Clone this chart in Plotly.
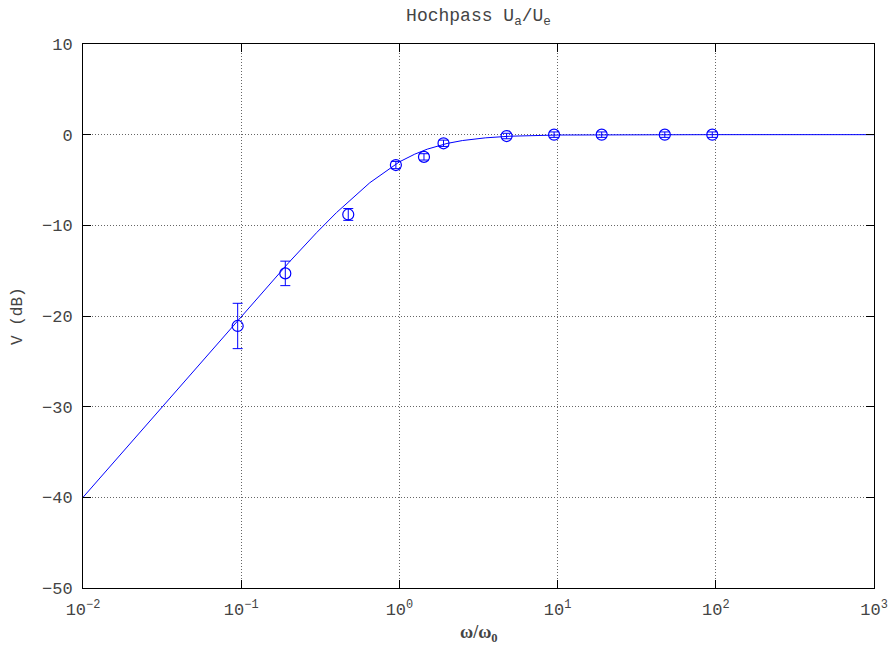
import plotly.graph_objects as go

# Measured data (omega/omega0, gain in dB, error in dB)
meas_w = [0.095, 0.19, 0.475, 0.95, 1.43, 1.9, 4.76, 9.5, 19.0, 47.6, 95.0]
meas_db = [-21.1, -15.3, -8.8, -3.35, -2.45, -0.95, -0.15, 0.0, 0.0, 0.0, 0.0]
meas_err = [2.5, 1.35, 0.65, 0.4, 0.35, 0.35, 0.3, 0.3, 0.3, 0.3, 0.3]

# Theory curve
line_w = [0.01, 0.02, 0.05, 0.1, 0.2, 0.3, 0.4, 0.65, 1.0, 1.25, 1.5, 2.0, 2.5, 3.5, 5.0, 10.0, 20.0, 100.0, 1000.0]
line_db = [-40.0, -34.0, -26.0, -20.0, -14.1, -10.8, -8.6, -5.3, -3.0, -2.15, -1.6, -0.97, -0.65, -0.35, -0.17, -0.04, -0.01, 0.0, 0.0]

x_tickvals = [0.01, 0.1, 1, 10, 100, 1000]
x_ticktext = ["10<sup>\u22122</sup>", "10<sup>\u22121</sup>", "10<sup>0</sup>", "10<sup>1</sup>", "10<sup>2</sup>", "10<sup>3</sup>"]
y_tickvals = [-50, -40, -30, -20, -10, 0, 10]

BLUE = "#0000ff"
MONO = "Courier New, Liberation Mono, monospace"
TXT = "#444444"

fig = go.Figure()
fig.add_trace(go.Scatter(x=line_w, y=line_db, mode="lines",
                         line=dict(color=BLUE, width=1), showlegend=False))
fig.add_trace(go.Scatter(x=meas_w, y=meas_db, mode="markers",
                         marker=dict(symbol="circle-open", size=11, color=BLUE, line=dict(width=1.2, color=BLUE)),
                         error_y=dict(type="data", array=meas_err, visible=True, color=BLUE, thickness=1, width=5),
                         showlegend=False))

axis_common = dict(showline=True, linecolor="black", linewidth=1, mirror="allticks",
                   ticks="inside", ticklen=8, tickcolor="black", tickwidth=1,
                   showgrid=True, gridcolor="#666666", griddash="1px,2px", gridwidth=1,
                   zeroline=False, automargin=False, tickfont=dict(family=MONO, size=17, color=TXT))

fig.update_xaxes(type="log", range=[-2, 3], tickvals=x_tickvals, ticktext=x_ticktext,
                 ticklabelstandoff=6, **axis_common)
fig.update_yaxes(range=[-50, 10], tickvals=y_tickvals, ticklabelstandoff=6, **axis_common)

fig.update_layout(
    width=893, height=651,
    margin=dict(l=83, r=19, t=44, b=63, autoexpand=False),
    paper_bgcolor="white", plot_bgcolor="white",
    title=dict(text="Hochpass U<sub>a</sub>/U<sub>e</sub>", x=0.5, xref="paper", xanchor="center",
               y=1 - 15 / 651, yref="container", yanchor="middle",
               font=dict(family=MONO, size=18, color=TXT)),
    annotations=[
        dict(text="<b>\u03c9/\u03c9<sub>0</sub></b>", xref="paper", yref="paper", x=0.5, y=-45 / 544,
             xanchor="center", yanchor="middle", showarrow=False,
             font=dict(family="Liberation Serif, serif", size=18, color=TXT)),
        dict(text="V (dB)", xref="paper", yref="paper", x=-65 / 791, y=0.5, textangle=-90,
             xanchor="center", yanchor="middle", showarrow=False,
             font=dict(family=MONO, size=16, color=TXT)),
    ],
)

fig.write_html("out.html")
